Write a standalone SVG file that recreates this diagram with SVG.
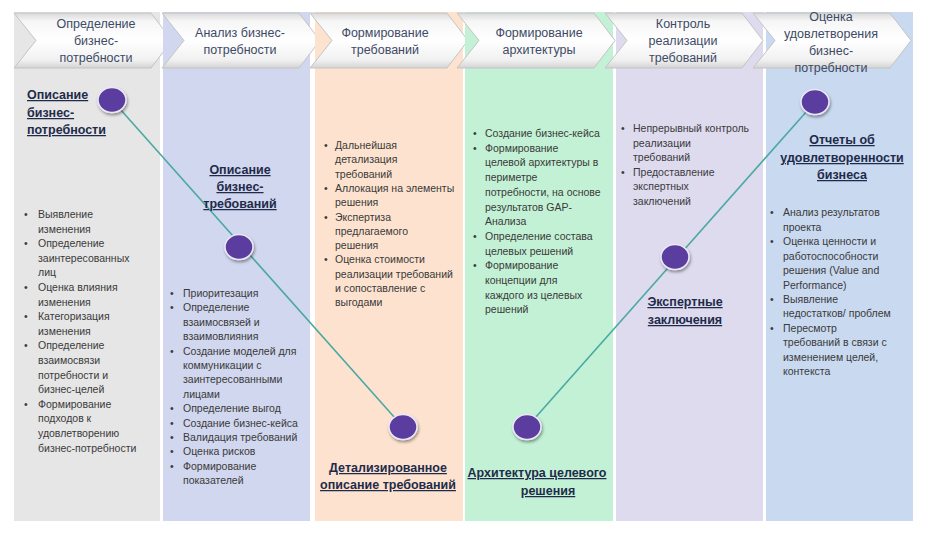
<svg xmlns="http://www.w3.org/2000/svg" width="928" height="538" viewBox="0 0 928 538">
<defs>
<linearGradient id="chev" x1="0" y1="0" x2="0" y2="1">
<stop offset="0" stop-color="#d9d9d9"/>
<stop offset="0.15" stop-color="#f6f6f6"/>
<stop offset="0.5" stop-color="#ffffff"/>
<stop offset="0.85" stop-color="#f1f1f1"/>
<stop offset="1" stop-color="#d4d4d4"/>
</linearGradient>
<filter id="sh" x="-50%" y="-50%" width="200%" height="200%">
<feDropShadow dx="1" dy="2" stdDeviation="1.5" flood-color="#000" flood-opacity="0.4"/>
</filter>
</defs>
<style>
.chev{fill:url(#chev);stroke:#c4c4c4;stroke-width:1}
.hd{font-family:"Liberation Sans",Arial,sans-serif;font-size:12.5px;fill:#3d4a66;text-anchor:middle}
.b{font-family:"Liberation Sans",Arial,sans-serif;font-size:10.5px;fill:#3a3a3a}
.ttl{font-family:"Liberation Sans",Arial,sans-serif;font-size:12.5px;font-weight:bold;fill:#1f2b4a;text-decoration:underline}
.mid{text-anchor:middle}
.dot{fill:#5a3d9e;stroke:#ece8f6;stroke-width:1.5;filter:url(#sh)}
.con{stroke:#4aa9a3;stroke-width:1.6;fill:none}
</style>
<rect width="928" height="538" fill="#ffffff"/>

<g id="phase1">
<rect x="14" y="12" width="146" height="509" fill="#e6e6e6"/>
<polygon class="chev" points="14,13 151,13 172,40.5 151,68 14,68 36,40.5"/>
<text class="hd" x="96"><tspan x="96" y="28">Определение</tspan><tspan x="96" y="45">бизнес-</tspan><tspan x="96" y="62">потребности</tspan></text>
<text class="b"><tspan x="24" y="218">•</tspan><tspan x="24" y="247.2">•</tspan><tspan x="24" y="291">•</tspan><tspan x="24" y="320.2">•</tspan><tspan x="24" y="349.4">•</tspan><tspan x="24" y="407.8">•</tspan></text>
<text class="b"><tspan x="38" y="218">Выявление</tspan><tspan x="38" y="232.6">изменения</tspan><tspan x="38" y="247.2">Определение</tspan><tspan x="38" y="261.8">заинтересованных</tspan><tspan x="38" y="276.4">лиц</tspan><tspan x="38" y="291">Оценка влияния</tspan><tspan x="38" y="305.6">изменения</tspan><tspan x="38" y="320.2">Категоризация</tspan><tspan x="38" y="334.8">изменения</tspan><tspan x="38" y="349.4">Определение</tspan><tspan x="38" y="364">взаимосвязи</tspan><tspan x="38" y="378.6">потребности и</tspan><tspan x="38" y="393.2">бизнес-целей</tspan><tspan x="38" y="407.8">Формирование</tspan><tspan x="38" y="422.4">подходов к</tspan><tspan x="38" y="437">удовлетворению</tspan><tspan x="38" y="451.6">бизнес-потребности</tspan></text>
</g>

<g id="phase2">
<rect x="163" y="12" width="147" height="509" fill="#d1d7ee"/>
<polygon class="chev" points="162,13 299,13 320,40.5 299,68 162,68 184,40.5"/>
<text class="hd"><tspan x="240" y="37">Анализ бизнес-</tspan><tspan x="240" y="54">потребности</tspan></text>
<text class="b"><tspan x="170" y="297">•</tspan><tspan x="170" y="311.4">•</tspan><tspan x="170" y="354.6">•</tspan><tspan x="170" y="412.2">•</tspan><tspan x="170" y="426.6">•</tspan><tspan x="170" y="441">•</tspan><tspan x="170" y="455.4">•</tspan><tspan x="170" y="469.8">•</tspan></text>
<text class="b"><tspan x="183" y="297">Приоритезация</tspan><tspan x="183" y="311.4">Определение</tspan><tspan x="183" y="325.8">взаимосвязей и</tspan><tspan x="183" y="340.2">взаимовлияния</tspan><tspan x="183" y="354.6">Создание моделей для</tspan><tspan x="183" y="369">коммуникации  с</tspan><tspan x="183" y="383.4">заинтересованными</tspan><tspan x="183" y="397.8">лицами</tspan><tspan x="183" y="412.2">Определение выгод</tspan><tspan x="183" y="426.6">Создание бизнес-кейса</tspan><tspan x="183" y="441">Валидация требований</tspan><tspan x="183" y="455.4">Оценка рисков</tspan><tspan x="183" y="469.8">Формирование</tspan><tspan x="183" y="484.2">показателей</tspan></text>
</g>

<g id="phase3">
<rect x="315" y="12" width="148" height="509" fill="#fde3cf"/>
<polygon class="chev" points="310,13 447,13 468,40.5 447,68 310,68 332,40.5"/>
<text class="hd"><tspan x="385" y="37">Формирование</tspan><tspan x="385" y="54">требований</tspan></text>
<text class="b"><tspan x="324" y="149">•</tspan><tspan x="324" y="191.9">•</tspan><tspan x="324" y="220.5">•</tspan><tspan x="324" y="263.4">•</tspan></text>
<text class="b"><tspan x="335" y="149">Дальнейшая</tspan><tspan x="335" y="163.3">детализация</tspan><tspan x="335" y="177.6">требований</tspan><tspan x="335" y="191.9">Аллокация на элементы</tspan><tspan x="335" y="206.2">решения</tspan><tspan x="335" y="220.5">Экспертиза</tspan><tspan x="335" y="234.8">предлагаемого</tspan><tspan x="335" y="249.1">решения</tspan><tspan x="335" y="263.4">Оценка стоимости</tspan><tspan x="335" y="277.7">реализации требований</tspan><tspan x="335" y="292">и сопоставление с</tspan><tspan x="335" y="306.3">выгодами</tspan></text>
</g>

<g id="phase4">
<rect x="465" y="12" width="148" height="509" fill="#c3f1d5"/>
<polygon class="chev" points="457,13 594,13 615,40.5 594,68 457,68 479,40.5"/>
<text class="hd"><tspan x="539" y="37">Формирование</tspan><tspan x="539" y="54">архитектуры</tspan></text>
<text class="b"><tspan x="473" y="137">•</tspan><tspan x="473" y="151.7">•</tspan><tspan x="473" y="239.9">•</tspan><tspan x="473" y="269.3">•</tspan></text>
<text class="b"><tspan x="485" y="137">Создание бизнес-кейса</tspan><tspan x="485" y="151.7">Формирование</tspan><tspan x="485" y="166.4">целевой архитектуры в</tspan><tspan x="485" y="181.1">периметре</tspan><tspan x="485" y="195.8">потребности, на основе</tspan><tspan x="485" y="210.5">результатов GAP-</tspan><tspan x="485" y="225.2">Анализа</tspan><tspan x="485" y="239.9">Определение состава</tspan><tspan x="485" y="254.6">целевых решений</tspan><tspan x="485" y="269.3">Формирование</tspan><tspan x="485" y="284">концепции для</tspan><tspan x="485" y="298.7">каждого из целевых</tspan><tspan x="485" y="313.4">решений</tspan></text>
</g>

<g id="phase5">
<rect x="616" y="12" width="147" height="509" fill="#dedbef"/>
<polygon class="chev" points="605,13 742,13 763,40.5 742,68 605,68 627,40.5"/>
<text class="hd"><tspan x="683" y="28">Контроль</tspan><tspan x="683" y="45">реализации</tspan><tspan x="683" y="62">требований</tspan></text>
<text class="b"><tspan x="621" y="132">•</tspan><tspan x="621" y="175.5">•</tspan></text>
<text class="b"><tspan x="633" y="132">Непрерывный контроль</tspan><tspan x="633" y="146.5">реализации</tspan><tspan x="633" y="161">требований</tspan><tspan x="633" y="175.5">Предоставление</tspan><tspan x="633" y="190">экспертных</tspan><tspan x="633" y="204.5">заключений</tspan></text>
</g>

<g id="phase6">
<rect x="766" y="12" width="147" height="509" fill="#c9d9f0"/>
<polygon class="chev" points="753,13 890,13 911,40.5 890,68 753,68 775,40.5"/>
<text class="hd"><tspan x="831" y="21">Оценка</tspan><tspan x="831" y="38">удовлетворения</tspan><tspan x="831" y="55">бизнес-</tspan><tspan x="831" y="72">потребности</tspan></text>
<text class="b"><tspan x="770" y="216">•</tspan><tspan x="770" y="245">•</tspan><tspan x="770" y="302.5">•</tspan><tspan x="770" y="331.5">•</tspan></text>
<text class="b"><tspan x="783" y="216">Анализ результатов</tspan><tspan x="783" y="230.5">проекта</tspan><tspan x="783" y="245">Оценка ценности  и</tspan><tspan x="783" y="259.5">работоспособности</tspan><tspan x="783" y="274">решения (Value and</tspan><tspan x="783" y="288.5">Performance)</tspan><tspan x="783" y="302.5">Выявление</tspan><tspan x="783" y="317">недостатков/ проблем</tspan><tspan x="783" y="331.5">Пересмотр</tspan><tspan x="783" y="346">требований в связи с</tspan><tspan x="783" y="360.5">изменением целей,</tspan><tspan x="783" y="375">контекста</tspan></text>
</g>

<g id="connectors">
<line class="con" x1="112" y1="100" x2="403" y2="427"/>
<line class="con" x1="527" y1="427" x2="815" y2="102"/>
</g>

<g id="m1">
<ellipse class="dot" cx="112" cy="100" rx="14" ry="12.5"/>
<text class="ttl"><tspan x="27" y="99">Описание</tspan><tspan x="27" y="117">бизнес-</tspan><tspan x="27" y="134">потребности</tspan></text>
</g>
<g id="m2">
<ellipse class="dot" cx="239" cy="247" rx="14" ry="12.5"/>
<text class="ttl mid"><tspan x="240" y="174">Описание</tspan><tspan x="240" y="191">бизнес-</tspan><tspan x="240" y="208">требований</tspan></text>
</g>
<g id="m3">
<ellipse class="dot" cx="403" cy="427" rx="14" ry="12.5"/>
<text class="ttl mid"><tspan x="388" y="472">Детализированное</tspan><tspan x="388" y="489">описание требований</tspan></text>
</g>
<g id="m4">
<ellipse class="dot" cx="527" cy="427" rx="14" ry="12.5"/>
<text class="ttl mid"><tspan x="537" y="477">Архитектура целевого</tspan><tspan x="548" y="495">решения</tspan></text>
</g>
<g id="m5">
<ellipse class="dot" cx="675" cy="257" rx="14" ry="12.5"/>
<text class="ttl mid"><tspan x="685" y="306">Экспертные</tspan><tspan x="685" y="324">заключения</tspan></text>
</g>
<g id="m6">
<ellipse class="dot" cx="815" cy="102" rx="14" ry="12.5"/>
<text class="ttl mid"><tspan x="842" y="144">Отчеты об</tspan><tspan x="842" y="162">удовлетворенности</tspan><tspan x="842" y="179">бизнеса</tspan></text>
</g>
</svg>
